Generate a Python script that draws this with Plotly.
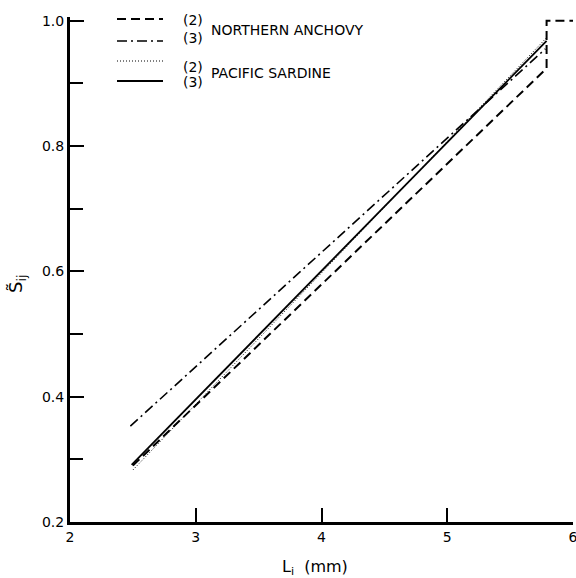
import plotly.graph_objects as go

# ---- data ----
species = ["NORTHERN ANCHOVY", "PACIFIC SARDINE"]
case_labels = ["(2)", "(3)"]

anchovy_2_L = [2.50, 5.79, 5.79, 6.00]
anchovy_2_S = [0.290, 0.924, 1.000, 1.000]
anchovy_3_L = [2.48, 5.78]
anchovy_3_S = [0.353, 0.955]
sardine_2_L = [2.50, 5.79]
sardine_2_S = [0.283, 0.973]
sardine_3_L = [2.49, 5.79]
sardine_3_S = [0.291, 0.968]

x_ticks = [2, 3, 4, 5, 6]
y_ticks = [0.2, 0.4, 0.6, 0.8, 1.0]

W, H = 576, 578
ML, MR, MT, MB = 70, 3, 17, 56
PW, PH = W - ML - MR, H - MT - MB

FONT = "DejaVu Sans"

styles = [
    dict(dash="9px,5px", width=2.0),            # anchovy (2)
    dict(dash="10px,4px,2px,4px", width=1.6),   # anchovy (3)
    dict(dash="1px,2px", width=1.0),            # sardine (2)
    dict(dash="solid", width=1.8),              # sardine (3)
]

series = [
    (anchovy_2_L, anchovy_2_S, species[0] + " " + case_labels[0]),
    (anchovy_3_L, anchovy_3_S, species[0] + " " + case_labels[1]),
    (sardine_2_L, sardine_2_S, species[1] + " " + case_labels[0]),
    (sardine_3_L, sardine_3_S, species[1] + " " + case_labels[1]),
]

fig = go.Figure()
for (xs, ys, name), st in zip(series, styles):
    fig.add_trace(go.Scatter(
        x=xs, y=ys, mode="lines", name=name, showlegend=False,
        line=dict(color="black", width=st["width"], dash=st["dash"]),
    ))


def px2paper(px, py):
    return (px - ML) / PW, (H - MB - py) / PH


# ---- hand-made legend (samples + labels) ----
legend_rows = [19, 41, 61, 81]
label_rows = [20, 38, 67, 82]
shapes = []
annotations = []
for i, st in enumerate(styles):
    x0, y0 = px2paper(117, legend_rows[i])
    x1, _ = px2paper(163, legend_rows[i])
    shapes.append(dict(type="line", xref="paper", yref="paper",
                       x0=x0, x1=x1, y0=y0, y1=y0,
                       line=dict(color="black", width=st["width"], dash=st["dash"])))
    lx, ly = px2paper(181, label_rows[i])
    annotations.append(dict(xref="paper", yref="paper", x=lx, y=ly,
                            text=case_labels[i % 2], showarrow=False,
                            xanchor="left", yanchor="middle",
                            font=dict(family=FONT, size=14, color="black")))

for sp, row in zip(species, [30, 73]):
    sx, sy = px2paper(209, row)
    annotations.append(dict(xref="paper", yref="paper", x=sx, y=sy,
                            text=sp, showarrow=False,
                            xanchor="left", yanchor="middle",
                            font=dict(family=FONT, size=14, color="black")))

# axis titles
tx, ty = px2paper(315, 567)
annotations.append(dict(xref="paper", yref="paper", x=tx, y=ty,
                        text="L<sub>i</sub>  (mm)", showarrow=False,
                        xanchor="center", yanchor="middle",
                        font=dict(family=FONT, size=16, color="black")))
yx, yy = px2paper(17, 284)
annotations.append(dict(xref="paper", yref="paper", x=yx, y=yy,
                        text="S\u0303<sub>ij</sub>", showarrow=False, textangle=-90,
                        xanchor="center", yanchor="middle",
                        font=dict(family=FONT, size=18, color="black")))

fig.update_layout(
    width=W, height=H,
    margin=dict(l=ML, r=MR, t=MT, b=MB, autoexpand=False),
    paper_bgcolor="white", plot_bgcolor="white",
    font=dict(family=FONT, size=13, color="black"),
    shapes=shapes, annotations=annotations,
    xaxis=dict(range=[2, 6], tickvals=x_ticks, ticktext=[str(v) for v in x_ticks],
               showline=True, linecolor="black", linewidth=3,
               ticks="inside", ticklen=14, tickwidth=1.5, tickcolor="black",
               showgrid=False, zeroline=False, mirror=False,
               ticklabeloverflow="allow",
               tickfont=dict(family=FONT, size=14)),
    yaxis=dict(range=[0.2, 1.006], tickvals=y_ticks,
               ticktext=["%.1f" % v for v in y_ticks],
               showline=True, linecolor="black", linewidth=3,
               ticks="inside", ticklen=14, tickwidth=1.5, tickcolor="black",
               minor=dict(dtick=0.1, tick0=0.2, ticks="inside", ticklen=13,
                          tickwidth=1.5, tickcolor="black"),
               showgrid=False, zeroline=False, mirror=False,
               ticklabeloverflow="allow",
               tickfont=dict(family=FONT, size=14)),
)

fig.write_html("out.html")
